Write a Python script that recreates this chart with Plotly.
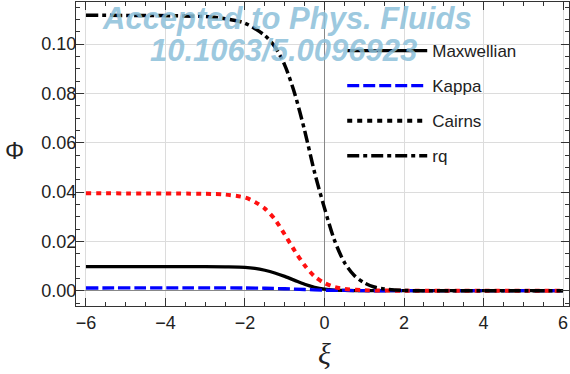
import plotly.graph_objects as go

# --- data ---
xi_max = [-6, -3, -2.5, -2.0, -1.75, -1.5, -1.25, -1.0, -0.75, -0.5, -0.25, 0.0, 0.25, 0.5, 1.0, 2.0, 6.0]
phi_max = [0.0098, 0.0098, 0.0097, 0.0095, 0.0091, 0.0083, 0.0072, 0.0058, 0.0042, 0.0026, 0.0014, 0.0006, 0.0002, 0.0001, 0.0, 0.0, 0.0]

xi_kap = [-6, -2.0, -1.5, -1.0, -0.5, 0.0, 0.5, 1.0, 2.0, 6.0]
phi_kap = [0.0011, 0.0011, 0.0010, 0.0008, 0.0005, 0.0002, 0.0001, 0.0, 0.0, 0.0]

xi_cai = [-6, -3, -2.5, -2.0, -1.75, -1.5, -1.25, -1.0, -0.75, -0.5, -0.25, 0.0, 0.25, 0.5, 1.0, 2.0, 6.0]
phi_cai = [0.0395, 0.0393, 0.0390, 0.0378, 0.0360, 0.0333, 0.0290, 0.0228, 0.0162, 0.0103, 0.0058, 0.0031, 0.0015, 0.0007, 0.0002, 0.0, 0.0]

xi_rq = [-6, -3, -2.5, -2.0, -1.5, -1.25, -1.0, -0.75, -0.5, -0.25, 0.0, 0.25, 0.5, 0.75, 1.0, 1.25, 1.5, 2.0, 3.0, 6.0]
phi_rq = [0.1117, 0.1112, 0.1103, 0.1085, 0.1035, 0.0990, 0.0915, 0.0800, 0.0650, 0.0480, 0.0335, 0.0205, 0.0115, 0.0062, 0.0032, 0.0015, 0.0007, 0.0001, 0.0, 0.0]

series_names = ["Maxwellian", "Kappa", "Cairns", "rq"]
x_ticks = [-6, -4, -2, 0, 2, 4, 6]
y_ticks = [0.00, 0.02, 0.04, 0.06, 0.08, 0.10]

FONT = "Liberation Sans, Arial, sans-serif"
WM = "rgba(140,192,218,0.85)"

fig = go.Figure()

fig.add_trace(go.Scatter(x=xi_max, y=phi_max, mode="lines", name=series_names[0],
                         line=dict(color="black", width=3.3, shape="spline", smoothing=0.8),
                         legendgroup="a"))
fig.add_trace(go.Scatter(x=xi_kap, y=phi_kap, mode="lines", name=series_names[1],
                         line=dict(color="#0000ff", width=3.3, dash="12px,4px", shape="spline", smoothing=0.8),
                         legendgroup="b"))
fig.add_trace(go.Scatter(x=xi_cai, y=phi_cai, mode="lines", name=series_names[2],
                         line=dict(color="#ff1010", width=4, dash="5px,5px", shape="spline", smoothing=0.8),
                         showlegend=False))
fig.add_trace(go.Scatter(x=[None], y=[None], mode="lines", name=series_names[2],
                         line=dict(color="black", width=4, dash="5px,5px"),
                         legendgroup="c"))
fig.add_trace(go.Scatter(x=xi_rq, y=phi_rq, mode="lines", name=series_names[3],
                         line=dict(color="black", width=3.5, dash="12px,4px,4px,4px", shape="spline", smoothing=0.8),
                         legendgroup="d"))

axis_common = dict(
    showline=True, linecolor="#333", linewidth=1, mirror="ticks",
    ticks="inside", tickcolor="#333", ticklen=8, tickwidth=1,
    showgrid=True, gridcolor="#dcdcdc", gridwidth=1,
    zeroline=True, zerolinecolor="#888", zerolinewidth=1,
    tickfont=dict(family=FONT, size=18, color="#222"),
)

fig.update_xaxes(range=[-6.25, 6.15], tickvals=x_ticks,
                 minor=dict(dtick=0.5, ticks="inside", ticklen=4, tickcolor="#333", showgrid=False),
                 **axis_common)
fig.update_yaxes(range=[-0.0062, 0.1171], tickvals=y_ticks, tickformat=".2f",
                 ticklabelstandoff=-5,
                 minor=dict(dtick=0.005, ticks="inside", ticklen=4, tickcolor="#333", showgrid=False),
                 **axis_common)

def px_x(p):
    return (p - 76) / 493

def px_y(p):
    return (306 - p) / 304

fig.update_layout(
    width=570, height=374,
    margin=dict(l=76, r=1, t=2, b=68),
    plot_bgcolor="white", paper_bgcolor="white",
    font=dict(family=FONT, color="#222"),
    showlegend=True,
    legend=dict(x=0.54, y=0.898, xanchor="left", yanchor="top",
                bgcolor="rgba(0,0,0,0)", itemwidth=80, tracegroupgap=10,
                font=dict(family=FONT, size=17, color="#222")),
    annotations=[
        dict(text="Φ", xref="paper", yref="paper", x=px_x(14), y=px_y(150),
             xanchor="center", yanchor="middle", showarrow=False,
             font=dict(family=FONT, size=24, color="#222")),
        dict(text="<i>ξ</i>", xref="paper", yref="paper", x=px_x(324), y=px_y(353),
             xanchor="center", yanchor="middle", showarrow=False,
             font=dict(family="Liberation Serif, serif", size=30, color="#222")),
        dict(text="<b><i>Accepted to Phys. Fluids</i></b>", xref="paper", yref="paper",
             x=px_x(287), y=px_y(18), xanchor="center", yanchor="middle", showarrow=False,
             font=dict(family=FONT, size=31, color=WM)),
        dict(text="<b><i>10.1063/5.0096923</i></b>", xref="paper", yref="paper",
             x=px_x(283), y=px_y(50), xanchor="center", yanchor="middle", showarrow=False,
             font=dict(family=FONT, size=31, color=WM)),
    ],
)

fig.write_html("out.html", config={"displayModeBar": False},
               post_script="document.body.style.margin='0';")
